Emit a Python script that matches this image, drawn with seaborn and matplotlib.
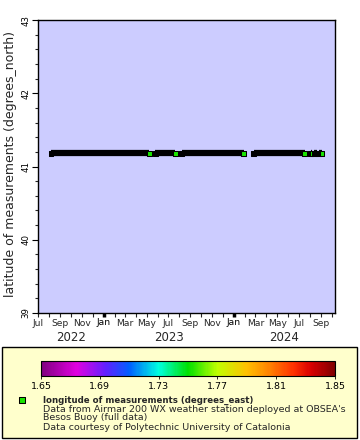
import matplotlib
matplotlib.use("Agg")
import matplotlib.pyplot as plt
import matplotlib.dates as mdates
from matplotlib.colors import LinearSegmentedColormap, Normalize
from matplotlib.cm import ScalarMappable
from matplotlib.patches import Rectangle
from matplotlib.ticker import FuncFormatter
import pandas as pd
import seaborn as sns

# continuous data coverage (start / end of each run of measurements)
seg_start = ["2022-08-06", "2023-05-26", "2023-08-07", "2024-02-25",
             "2024-08-03", "2024-08-12", "2024-08-25"]
seg_end = ["2023-05-09", "2023-07-21", "2024-01-28", "2024-07-17",
           "2024-08-06", "2024-08-20", "2024-09-03"]
latitude = 41.18
longitude = 1.7525

x_range = ["2022-07-01", "2024-10-10"]
y_ticks = [39, 40, 41, 42, 43]
years = [2022, 2023, 2024]
label_months = [3, 5, 7, 9, 11]
cbar_ticks = [1.65, 1.69, 1.73, 1.77, 1.81, 1.85]

legend_title = "longitude of measurements (degrees_east)"
legend_lines = ["Data from Airmar 200 WX weather station deployed at OBSEA's",
                "Besos Buoy (full data)",
                "Data courtesy of Polytechnic University of Catalonia"]

sns.set_style("ticks")
plt.rcParams["font.family"] = ["DejaVu Sans"]

cmap = LinearSegmentedColormap.from_list("rainbow2", [
    (0.00, "#800080"), (0.12, "#e000e0"), (0.22, "#6020ff"), (0.30, "#0060ff"),
    (0.40, "#00ffe0"), (0.50, "#00e000"), (0.60, "#c0ff00"), (0.70, "#ffc000"),
    (0.78, "#ff8000"), (0.86, "#ff3000"), (0.92, "#d80000"), (1.00, "#800000")])
norm = Normalize(1.65, 1.85)
point_color = cmap(norm(longitude))

# points in time order: start of run drawn black, last one keeps its fill
rows = []
for i, (s, e) in enumerate(zip(seg_start, seg_end)):
    rows.append({"time": pd.Timestamp(s), "lat": latitude, "seg": i, "kind": "start"})
    rows.append({"time": pd.Timestamp(e), "lat": latitude, "seg": i, "kind": "end"})
pts = pd.DataFrame(rows)

fig = plt.figure(figsize=(3.6, 4.4), dpi=100)
ax = fig.add_axes([38 / 360, 1 - 313 / 440, 297 / 360, 293 / 440])
ax.set_facecolor("#ccccff")

sns.lineplot(data=pts, x="time", y="lat", units="seg", estimator=None,
             color="black", linewidth=4.5, solid_capstyle="butt", ax=ax, legend=False)
sns.scatterplot(data=pts, x="time", y="lat", hue="kind",
                palette={"start": "black", "end": point_color},
                marker="s", s=10.5, edgecolor="black", linewidth=0.75,
                ax=ax, legend=False, zorder=3)

ax.set_xlim(pd.Timestamp(x_range[0]), pd.Timestamp(x_range[1]))
ax.set_ylim(y_ticks[0], y_ticks[-1])
ax.set_xlabel("")
ax.set_ylabel("latitude of measurements (degrees_north)", fontsize=9.0)
ax.yaxis.set_label_coords(-0.07, 0.51)

ax.set_yticks(y_ticks)
ax.set_yticks([y_ticks[0] + 0.2 * k for k in range(21)], minor=True)
ax.set_yticklabels([str(t) for t in y_ticks], rotation=90, va="center", fontsize=6.2)
ax.tick_params(axis="y", which="major", length=4, width=0.8, pad=1.5)
ax.tick_params(axis="y", which="minor", length=2.5, width=0.8)

# January ticks are the heavy ones, every other month gets a label
ax.xaxis.set_major_locator(mdates.MonthLocator(bymonth=[1]))
ax.xaxis.set_major_formatter(mdates.DateFormatter("%b"))
ax.xaxis.set_minor_locator(mdates.MonthLocator())
ax.xaxis.set_minor_formatter(FuncFormatter(
    lambda v, p: mdates.num2date(v).strftime("%b")
    if mdates.num2date(v).month in label_months else ""))
ax.tick_params(axis="x", which="both", length=3, labelsize=6.6)
ax.tick_params(axis="x", which="major", width=2.5, pad=0.5)
ax.tick_params(axis="x", which="minor", width=0.8, pad=1.5)
ax.tick_params(colors="black", labelcolor="black")

for sp in ax.spines.values():
    sp.set_visible(True)
    sp.set_color("black")
    sp.set_linewidth(1)

x0, x1 = ax.get_xlim()
for yr in years:
    a = max(mdates.date2num(pd.Timestamp(f"{yr}-01-01")), x0)
    b = min(mdates.date2num(pd.Timestamp(f"{yr + 1}-01-01")), x1)
    ax.text((a + b) / 2, -0.084, str(yr), transform=ax.get_xaxis_transform(),
            ha="center", va="center", fontsize=8.5)

# legend panel
lax = fig.add_axes([0, 0, 1, 1], zorder=-1)
lax.set_xlim(0, 360)
lax.set_ylim(440, 0)
lax.axis("off")
lax.add_patch(Rectangle((2, 347), 355, 91, facecolor="#ffffcc", edgecolor="black", lw=1))
lax.scatter([22], [400], marker="s", s=16, color=point_color, edgecolor="black", linewidth=0.75)
lax.text(43, 400, legend_title, fontsize=6.2, fontweight="bold", va="center")
for k, line in enumerate(legend_lines):
    lax.text(43, 409 + 9 * k, line, fontsize=6.8, va="center")

cax = fig.add_axes([41 / 360, 1 - 376 / 440, 294 / 360, 15 / 440])
cb = fig.colorbar(ScalarMappable(norm=norm, cmap=cmap), cax=cax, orientation="horizontal")
cb.set_ticks(cbar_ticks)
cb.set_ticklabels([f"{t:.2f}" for t in cbar_ticks])
cb.outline.set_edgecolor("black")
cb.outline.set_linewidth(0.8)
cax.tick_params(length=2, width=0.6, labelsize=6.8, pad=2, colors="black")

fig.savefig("out.png", dpi=100)
